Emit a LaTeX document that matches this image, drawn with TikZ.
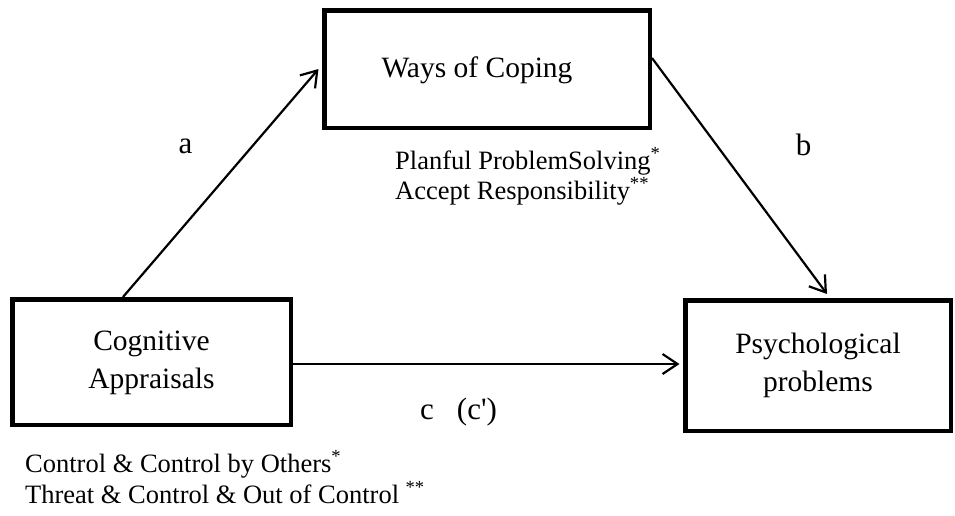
\documentclass[tikz,border=0pt]{standalone}
\usepackage{fontspec}
\setmainfont{Liberation Serif}
\newfontfamily\rawserif{Liberation Serif}[Ligatures=TeXOff]
\usetikzlibrary{arrows.meta}
\begin{document}
\begin{tikzpicture}[x=1pt,y=-1pt,
 box/.style={draw, line width=4.5pt, inner sep=0pt},
 boxtext/.style={font=\fontsize{29.5}{38}\selectfont, align=center, inner sep=0pt},
 lab/.style={font=\rawserif\fontsize{31}{36}\selectfont, inner sep=0pt, anchor=base},
 note/.style={font=\fontsize{26.5}{30}\selectfont, inner sep=0pt, anchor=base west},
 link/.style={line width=2.2pt, -{Straight Barb[length=15pt,width=20pt,line width=2.2pt]}}]
\useasboundingbox (0,0) rectangle (955,515);

\node[box, minimum width=278.5pt, minimum height=125.5pt] (cog) at (151.5,362) {};
\node[box, minimum width=325.5pt, minimum height=117.5pt] (ways) at (487,69) {};
\node[box, minimum width=265.5pt, minimum height=130.5pt] (psych) at (818,365.5) {};

\node[boxtext] (cogtxt) at (151.5,363) {Cognitive\\Appraisals};
\node[boxtext] (waystxt) at (477,70) {Ways of Coping};
\node[boxtext] (psychtxt) at (818,365) {Psychological\\problems};

\draw[link] ([xshift=-28.5pt]cog.north) -- ([xshift=-3.5pt]ways.west);
\draw[link] ([yshift=11pt]ways.east) -- ([xshift=9pt,yshift=4pt]psych.north);
\draw[link] ([yshift=-2pt]cog.east) -- ([xshift=-3.5pt,yshift=-2pt]cog.east -| psych.west);

\node[lab] (la) at (185.5,153) {a};
\node[lab] (lb) at (803.5,155) {b};
\node[lab, anchor=base west] (lc) at (420,419) {c\hspace{23pt}(c')};

\node[note] (plan) at (395,169) {Planful ProblemSolving\textsuperscript{*}};
\node[note] (acc) at (395,199) {Accept Responsibility\textsuperscript{**}};
\node[note] (ctrl) at (25,472) {Control \& Control by Others\textsuperscript{*}};
\node[note] (thr) at (25,503) {Threat \& Control \& Out of Control \textsuperscript{**}};
\end{tikzpicture}
\end{document}
